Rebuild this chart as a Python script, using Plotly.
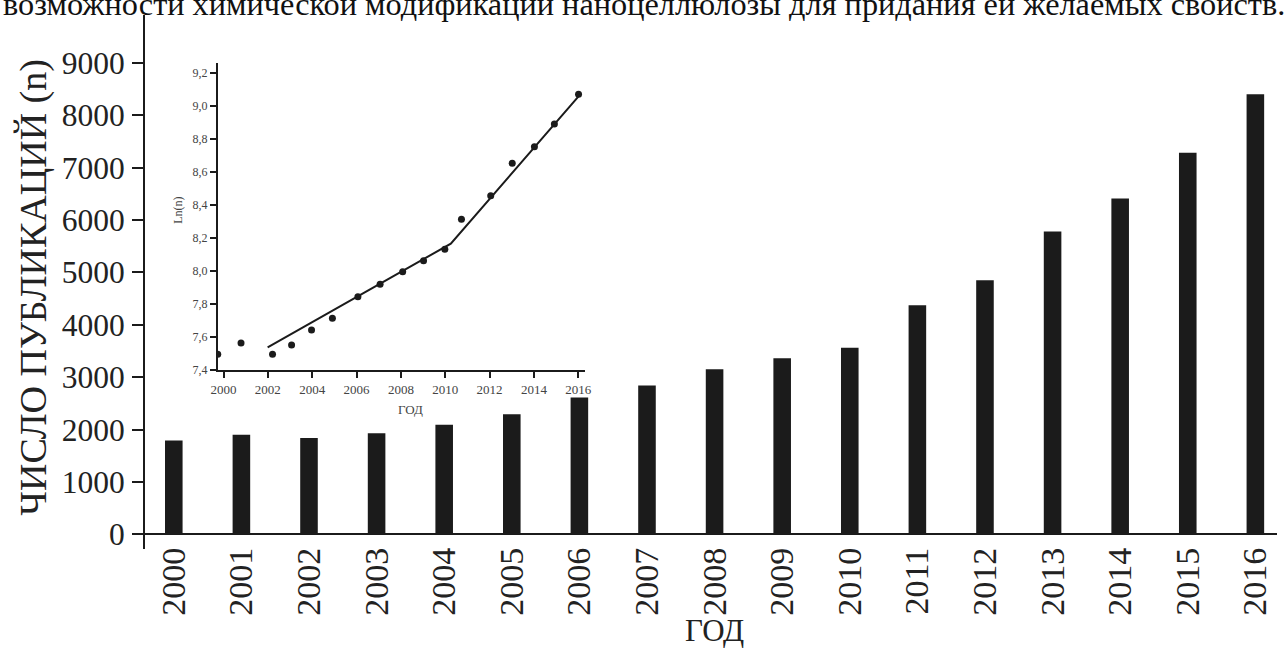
import plotly.graph_objects as go

# ---- data ----
years = [2000, 2001, 2002, 2003, 2004, 2005, 2006, 2007, 2008,
         2009, 2010, 2011, 2012, 2013, 2014, 2015, 2016]
publications = [1790, 1900, 1840, 1930, 2090, 2290, 2610, 2840, 3150,
                3360, 3560, 4370, 4850, 5780, 6410, 7280, 8400]
year_labels = [str(y) for y in years]
main_yticks = [0, 1000, 2000, 3000, 4000, 5000, 6000, 7000, 8000, 9000]
main_ytick_labels = [str(v) for v in main_yticks]

inset_x = [1999.74, 2000.79, 2002.21, 2003.07, 2003.97, 2004.91, 2006.06,
           2007.06, 2008.08, 2009.02, 2009.98, 2010.73, 2012.05, 2013.02,
           2014.02, 2014.92, 2016.01]
inset_lnn = [7.495, 7.563, 7.495, 7.551, 7.642, 7.713, 7.844, 7.919, 7.995,
             8.062, 8.131, 8.312, 8.455, 8.651, 8.752, 8.889, 9.069]
fit_x = [2001.99, 2010.25, 2016.0]
fit_y = [7.537, 8.165, 9.055]
inset_xticks = [2000, 2002, 2004, 2006, 2008, 2010, 2012, 2014, 2016]
inset_xtick_labels = [str(v) for v in inset_xticks]
inset_yticks = [7.4, 7.6, 7.8, 8.0, 8.2, 8.4, 8.6, 8.8, 9.0, 9.2]
inset_ytick_labels = ["7,4", "7,6", "7,8", "8,0", "8,2", "8,4", "8,6", "8,8", "9,0", "9,2"]

top_text = "возможности химической модификации наноцеллюлозы для придания ей желаемых свойств."

FONT = "'Liberation Serif', 'Times New Roman', Tinos, 'DejaVu Serif', serif"
INK = "#1b1b1b"

fig = go.Figure()
fig.add_trace(go.Bar(x=years, y=publications, width=0.26,
                     marker=dict(color=INK, line=dict(width=0)),
                     showlegend=False))
fig.add_trace(go.Scatter(x=fit_x, y=fit_y, mode="lines",
                         line=dict(color=INK, width=2),
                         xaxis="x2", yaxis="y2", showlegend=False))
fig.add_trace(go.Scatter(x=inset_x, y=inset_lnn, mode="markers",
                         marker=dict(color=INK, size=7),
                         xaxis="x2", yaxis="y2", showlegend=False))

fig.update_layout(
    width=1284, height=655,
    margin=dict(l=145, r=0, t=15, b=106),
    paper_bgcolor="white", plot_bgcolor="rgba(0,0,0,0)",
    font=dict(family=FONT, color="#222"),
    xaxis=dict(range=[1999.574, 2016.32], tickvals=years, ticktext=year_labels,
               tickangle=-90, showgrid=False, zeroline=False, showline=False,
               ticks="", ticklabelstandoff=-9,
               tickfont=dict(size=34, family=FONT, color="#222")),
    yaxis=dict(range=[-280, 9910], tickvals=main_yticks, ticktext=main_ytick_labels,
               showgrid=False, zeroline=True, zerolinecolor=INK, zerolinewidth=2,
               showline=True, linecolor=INK, linewidth=2,
               ticks="outside", ticklen=11, tickwidth=1.5, tickcolor=INK,
               ticklabelstandoff=1,
               tickfont=dict(size=31.5, family=FONT, color="#222")),
    xaxis2=dict(domain=[0.06436, 0.38867], anchor="y2", range=[1999.745, 2016.30],
                tickvals=inset_xticks, ticktext=inset_xtick_labels,
                showgrid=False, zeroline=False, showline=True, linecolor=INK, linewidth=1.8,
                ticks="outside", ticklen=6, tickwidth=1.5, tickcolor=INK,
                tickfont=dict(size=13, family=FONT, color="#444")),
    yaxis2=dict(domain=[0.3352, 0.9096], anchor="x2", range=[7.4, 9.257],
                tickvals=inset_yticks, ticktext=inset_ytick_labels,
                showgrid=False, zeroline=False, showline=True, linecolor=INK, linewidth=1.8,
                ticks="outside", ticklen=6, tickwidth=1.5, tickcolor=INK,
                tickfont=dict(size=12, family=FONT, color="#444")),
    annotations=[
        dict(text=top_text, xref="paper", yref="paper", x=-0.1273, y=0.9831,
             xanchor="left", yanchor="bottom", showarrow=False,
             font=dict(size=32.3, family=FONT, color="#111")),
        dict(text="ЧИСЛО ПУБЛИКАЦИЙ (n)", xref="paper", yref="paper",
             x=-0.0992, y=0.4906, textangle=-90, xanchor="center", yanchor="middle",
             showarrow=False, font=dict(size=38, family=FONT, color="#222")),
        dict(text="ГОД", xref="paper", yref="paper", x=0.503, y=-0.1530,
             xanchor="center", yanchor="middle", showarrow=False,
             font=dict(size=31, family=FONT, color="#222")),
        dict(text="Ln(n)", xref="paper", yref="paper", x=0.029, y=0.6348,
             textangle=-90, xanchor="center", yanchor="middle", showarrow=False,
             font=dict(size=12, family=FONT, color="#444")),
        dict(text="ГОД", xref="paper", yref="paper", x=0.2342, y=0.2603,
             xanchor="center", yanchor="middle", showarrow=False,
             font=dict(size=13, family=FONT, color="#444")),
    ],
)

fig.write_html("out.html", config={"displayModeBar": False},
               post_script="document.body.style.margin='0';")
